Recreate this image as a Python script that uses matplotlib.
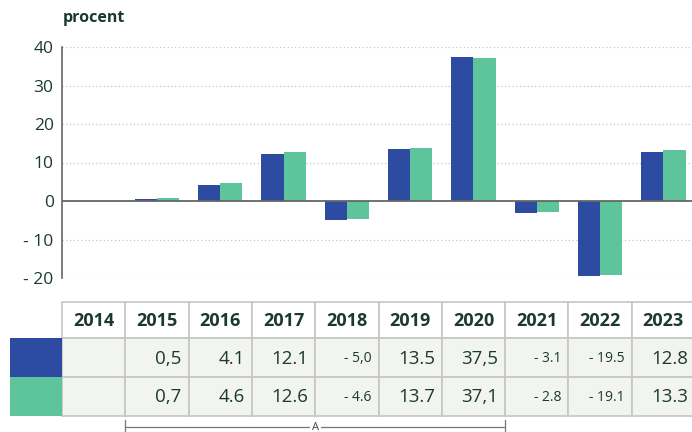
import numpy as np
import matplotlib.pyplot as plt
from matplotlib.patches import Rectangle

plt.rcParams['font.family'] = ['Open Sans', 'DejaVu Sans']

years = ['2014', '2015', '2016', '2017', '2018', '2019', '2020', '2021', '2022', '2023']
serie_a = [np.nan, 0.5, 4.1, 12.1, -5.0, 13.5, 37.5, -3.1, -19.5, 12.8]
serie_b = [np.nan, 0.7, 4.6, 12.6, -4.6, 13.7, 37.1, -2.8, -19.1, 13.3]
labels_a = ['', '0,5', '4.1', '12.1', '- 5,0', '13.5', '37,5', '- 3.1', '- 19.5', '12.8']
labels_b = ['', '0,7', '4.6', '12.6', '- 4.6', '13.7', '37,1', '- 2.8', '- 19.1', '13.3']
yticks = [-20, -10, 0, 10, 20, 30, 40]
ytick_labels = ['- 20', '- 10', '0', '10', '20', '30', '40']

blue = '#2E4BA2'
green = '#5DC49B'
txt = '#1C3A2A'
W, H = 692, 432

fig = plt.figure(figsize=(W / 100, H / 100), dpi=100)

# chart area in pixel terms
left, right = 62, 695
top, bottom = 47, 278
ax = fig.add_axes([left / W, 1 - bottom / H, (right - left) / W, (bottom - top) / H])

x = np.arange(len(years))
bw = 0.35
ax.bar(x - bw / 2, serie_a, bw, color=blue, zorder=3)
ax.bar(x + bw / 2, serie_b, bw, color=green, zorder=3)

ax.set_xlim(-0.5, len(years) - 0.5)
ax.set_ylim(-20, 40)
ax.set_yticks(yticks)
ax.set_yticklabels(ytick_labels, fontsize=12.5, color=txt)
ax.set_xticks([])
ax.tick_params(axis='y', length=0, pad=6)
for g in yticks:
    if g != 0:
        ax.axhline(g, color='#C4C4C4', lw=0.9, ls=(0, (1, 2)), zorder=1)
ax.axhline(0, color='#666666', lw=1.3, zorder=4)
for s in ['top', 'right', 'bottom']:
    ax.spines[s].set_visible(False)
ax.spines['left'].set_color('#666666')
ax.spines['left'].set_linewidth(1.2)

fig.text(63 / W, 1 - 18 / H, 'procent', fontsize=11.5, fontweight='bold', color=txt, va='center')

# table below the chart, drawn on an overlay in pixel coordinates
ov = fig.add_axes([0, 0, 1, 1])
ov.set_xlim(0, W)
ov.set_ylim(H, 0)
ov.axis('off')

colw = (right - left) / len(years)
rows_y = [302, 338, 377, 416]
border = '#C6C6C6'

for i, yr in enumerate(years):
    cx = left + i * colw
    ov.add_patch(Rectangle((cx, rows_y[0]), colw, rows_y[1] - rows_y[0],
                           facecolor='white', edgecolor=border, lw=1.2))
    ov.text(cx + colw / 2, (rows_y[0] + rows_y[1]) / 2 + 1, yr, ha='center', va='center',
            fontsize=13, fontweight='bold', color=txt)
    for r, lab in enumerate([labels_a[i], labels_b[i]]):
        y0 = rows_y[r + 1]
        y1 = rows_y[r + 2]
        ov.add_patch(Rectangle((cx, y0), colw, y1 - y0,
                               facecolor='#F2F4F0', edgecolor=border, lw=1.2))
        small = lab.startswith('-')
        ov.text(cx + colw - 7, (y0 + y1) / 2 + 1, lab, ha='right', va='center',
                fontsize=10 if small else 13.5, color=txt)

for r, c in enumerate([blue, green]):
    ov.add_patch(Rectangle((10, rows_y[r + 1]), left - 10, rows_y[r + 2] - rows_y[r + 1],
                           facecolor=c, edgecolor='none'))

# bracket marking 2015-2020
bx0 = left + 1 * colw
bx1 = left + 7 * colw
by = 427
ov.plot([bx0, bx1], [by, by], color='#777777', lw=0.9)
ov.plot([bx0, bx0], [by - 7, by + 5], color='#777777', lw=0.9)
ov.plot([bx1, bx1], [by - 7, by + 5], color='#777777', lw=0.9)
ov.text((bx0 + bx1) / 2, by, 'A', ha='center', va='center', fontsize=8, color='#444444',
        bbox=dict(facecolor='white', edgecolor='none', pad=1.5))

fig.savefig('out.png', dpi=100)
